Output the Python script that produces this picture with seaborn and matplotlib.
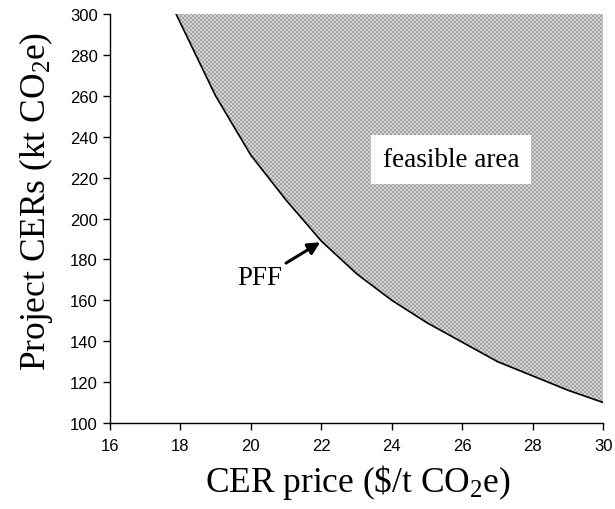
#!/usr/bin/env python3
"""PFF curve: CER price vs project CERs, feasible area shaded above."""
import matplotlib
matplotlib.use("Agg")
import matplotlib.pyplot as plt
from matplotlib.colors import ListedColormap
import numpy as np
import seaborn as sns

# values
PRICE = [17.88, 19, 20, 21, 22, 23, 24, 25, 26, 27, 28, 29, 30]
CERS = [300, 260, 231, 209, 189, 173, 160, 149, 139.5, 130, 123, 116, 110]
X_TICKS = list(range(16, 31, 2))
Y_TICKS = list(range(100, 301, 20))
FEASIBLE_LABEL = "feasible area"
PFF_LABEL = "PFF"
PFF_POINT = (21.97, 188.4)


def setup_style():
    sns.set_theme(style="ticks")
    plt.rcParams.update(
        {
            "font.family": ["Liberation Sans", "DejaVu Sans"],
            "mathtext.fontset": "custom",
            "mathtext.rm": "Liberation Serif",
            "mathtext.it": "Liberation Serif:italic",
            "text.color": "black",
            "axes.labelcolor": "black",
            "xtick.labelsize": 12,
            "ytick.labelsize": 12,
            "axes.edgecolor": "black",
            "axes.linewidth": 1.0,
            "xtick.color": "black",
            "ytick.color": "black",
            "xtick.major.size": 5,
            "ytick.major.size": 5,
            "xtick.major.width": 1.0,
            "ytick.major.width": 1.0,
        }
    )


def main():
    setup_style()
    serif = ["Liberation Serif", "DejaVu Serif"]

    fig = plt.figure(figsize=(6.15, 5.1), dpi=100)
    ax = fig.add_axes([0.1785, 0.1686, 0.8025, 0.802])

    ax.set_xlim(16, 30)
    ax.set_ylim(100, 300)

    # feasible region above the frontier, filled with a fine checker texture
    region = ax.fill_between(PRICE, CERS, 300, facecolor="none", edgecolor="none")
    rows, cols = 205, 247
    checker = (np.add.outer(np.arange(rows), np.arange(cols)) % 2).astype(float)
    im = ax.imshow(
        checker,
        cmap=ListedColormap(["#a4a4a4", "#d4d4d4"]),
        extent=(16, 30, 100, 300),
        aspect="auto",
        interpolation="nearest",
        zorder=1,
    )
    im.set_clip_path(region.get_paths()[0], transform=ax.transData)

    sns.lineplot(x=PRICE, y=CERS, color="black", linewidth=1.2, ax=ax, zorder=3)

    ax.text(
        25.68, 229, FEASIBLE_LABEL,
        ha="center", va="center", fontsize=19.5, family=serif,
        bbox=dict(boxstyle="square,pad=0.45", facecolor="white", edgecolor="none"),
        zorder=4,
    )
    ax.annotate(
        "", xy=PFF_POINT, xytext=(21.0, 178.2),
        arrowprops=dict(arrowstyle="-|>,head_length=0.6,head_width=0.3",
                        lw=2.2, color="black", shrinkA=0, shrinkB=0),
        zorder=4,
    )
    ax.text(20.26, 171, PFF_LABEL, ha="center", va="center", fontsize=19.5,
            family=serif, zorder=4)

    ax.set_xticks(X_TICKS)
    ax.set_yticks(Y_TICKS)
    ax.set_xlabel(r"CER price (\$/t CO$_\mathrm{2}$e)", fontsize=25.5, family=serif)
    ax.set_ylabel(r"Project CERs (kt CO$_\mathrm{2}$e)", fontsize=25.5, family=serif)
    ax.xaxis.set_label_coords(0.502, -0.095)
    ax.yaxis.set_label_coords(-0.111, 0.545)
    ax.tick_params(axis="x", pad=6)
    sns.despine(ax=ax)

    fig.savefig("out.png", dpi=100)
    plt.close(fig)


if __name__ == "__main__":
    main()
